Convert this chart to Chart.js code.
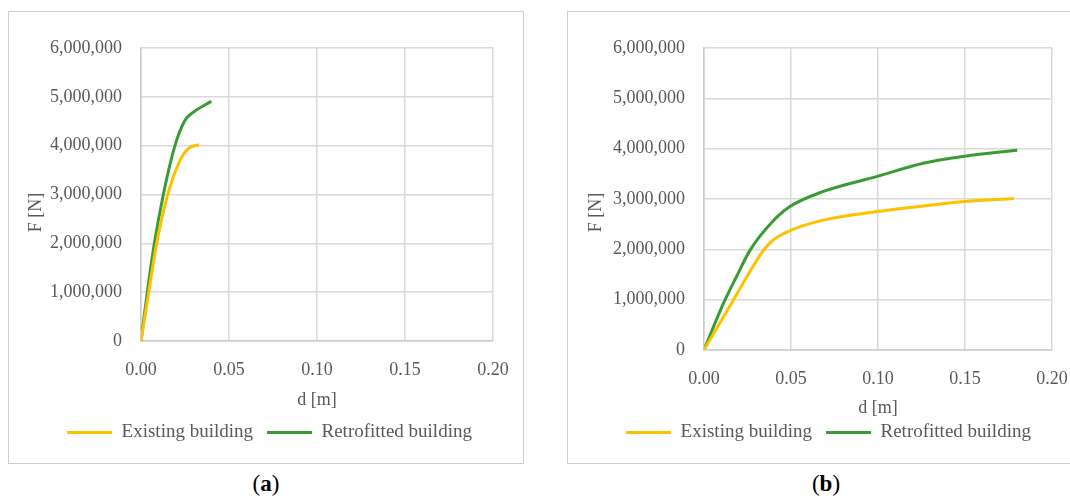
<!DOCTYPE html>
<html><head><meta charset="utf-8">
<script src="https://cdn.jsdelivr.net/npm/chart.js@4.4.0/dist/chart.umd.min.js"></script>
<style>
html,body{margin:0;padding:0;background:#fff;overflow:hidden;}
body{width:1070px;height:500px;position:relative;}
.box{position:absolute;border:1px solid #cfcfcf;box-sizing:border-box;}
canvas{position:absolute;}
.lab{position:absolute;font-family:"Liberation Serif",serif;font-size:23px;color:#000;transform:translateX(-50%);white-space:nowrap;}
</style></head><body>
<div class="box" style="left:8px;top:11px;width:516px;height:453px"></div>
<div class="box" style="left:567px;top:11px;width:540px;height:453px"></div>
<canvas id="ca" width="518" height="450" style="left:9px;top:12px"></canvas>
<canvas id="cb" width="518" height="450" style="left:568px;top:12px"></canvas>
<div class="lab" style="left:266px;top:471px">(<b>a</b>)</div>
<div class="lab" style="left:826px;top:471px">(<b>b</b>)</div>
<script>
// ---- data ----
const seriesNames = ["Existing building", "Retrofitted building"];
const xTickValues = [0, 0.05, 0.10, 0.15, 0.20];
const yTickValues = [0, 1000000, 2000000, 3000000, 4000000, 5000000, 6000000];

// panel (a)
const existingA_d = [0, 0.0044, 0.0089, 0.0152, 0.0222, 0.0269, 0.0330];
const existingA_F = [0, 1000000, 2000000, 3000000, 3700000, 3940000, 4020000];
const retrofitA_d = [0, 0.0036, 0.0076, 0.0127, 0.0193, 0.0250, 0.0288, 0.0400];
const retrofitA_F = [0, 1000000, 2000000, 3000000, 4000000, 4520000, 4660000, 4910000];

// panel (b)
const existingB_d = [0, 0.017, 0.034, 0.040, 0.050, 0.0686, 0.0996, 0.126, 0.150, 0.178];
const existingB_F = [0, 1000000, 1970000, 2190000, 2380000, 2580000, 2750000, 2860000, 2950000, 3010000];
const retrofitB_d = [0, 0.0111, 0.0187, 0.0264, 0.0385, 0.0494, 0.0686, 0.0996, 0.126, 0.150, 0.180];
const retrofitB_F = [0, 920000, 1460000, 1980000, 2520000, 2850000, 3150000, 3450000, 3710000, 3850000, 3970000];

const colors = ["#FFC000", "#3A9B32"];
const FONT = "Liberation Serif";
const TXT = "#595959";

function pts(d, F) { return d.map((x, i) => ({x: x, y: F[i]})); }

function makeChart(id, ex, rt, cfg) {
  const datasets = [ex, rt].map((s, i) => ({
    label: seriesNames[i],
    data: pts(s[0], s[1]),
    borderColor: colors[i],
    backgroundColor: colors[i],
    borderWidth: 3,
    pointRadius: 0,
    pointStyle: 'line',
    cubicInterpolationMode: 'monotone',
    fill: false
  }));
  return new Chart(document.getElementById(id), {
    type: 'line',
    data: {datasets: datasets},
    options: {
      responsive: false,
      animation: false,
      layout: {padding: {left: cfg.pl, right: cfg.pr, top: 36, bottom: cfg.pb}},
      plugins: {
        legend: {
          position: 'bottom',
          labels: {
            usePointStyle: true, pointStyleWidth: 45, boxHeight: 18,
            padding: 14, color: TXT,
            font: {family: FONT, size: 19}
          }
        },
        tooltip: {enabled: false}
      },
      scales: {
        x: {
          type: 'linear', min: 0, max: 0.2,
          afterBuildTicks: a => { a.ticks = xTickValues.map(v => ({value: v})); },
          afterFit: a => { a.height = cfg.xh; },
          ticks: {padding: 18, color: TXT, font: {family: FONT, size: 18},
                  callback: v => Number(v).toFixed(2)},
          grid: {color: '#d9d9d9', lineWidth: 1.5, drawTicks: false},
          border: {color: '#cccccc', width: 1.5},
          title: {display: true, text: 'd [m]', color: TXT, font: {family: FONT, size: 18},
                  padding: {top: 0, bottom: cfg.xtb}}
        },
        y: {
          type: 'linear', min: 0, max: 6000000,
          afterBuildTicks: a => { a.ticks = yTickValues.map(v => ({value: v})); },
          afterFit: a => { a.width = cfg.yw; },
          ticks: {padding: 19, color: TXT, font: {family: FONT, size: 18},
                  callback: v => Number(v).toLocaleString('en-US')},
          grid: {color: '#d9d9d9', lineWidth: 1.5, drawTicks: false},
          border: {color: '#cccccc', width: 1.5},
          title: {display: true, text: 'F [N]' + '\u00a0'.repeat(cfg.sp), color: TXT,
                  font: {family: FONT, size: 18}, padding: {top: cfg.ytp, bottom: 0}}
        }
      }
    }
  });
}

makeChart('ca', [existingA_d, existingA_F], [retrofitA_d, retrofitA_F],
  {pl: 37, pr: 34, pb: 10, yw: 95, xh: 68, xtb: -2, ytp: -20.8, sp: 8});
makeChart('cb', [existingB_d, existingB_F], [retrofitB_d, retrofitB_F],
  {pl: 37, pr: 34, pb: 10, yw: 99, xh: 59, xtb: -10, ytp: -20, sp: 6});
</script>
</body></html>
